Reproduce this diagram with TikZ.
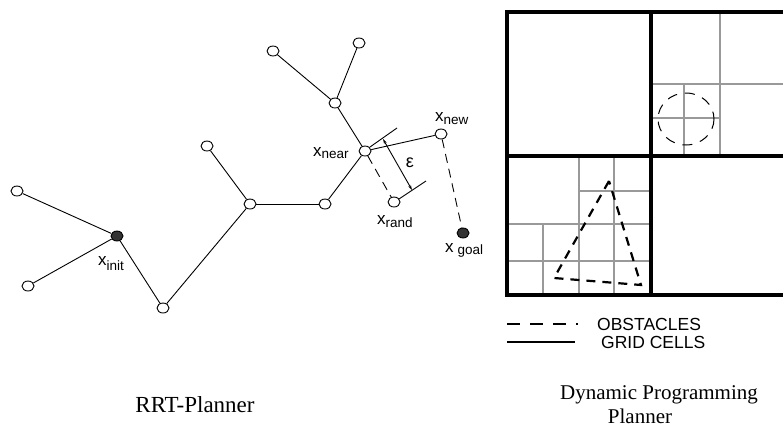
\documentclass[tikz,border=0pt]{standalone}
\usepackage{fontspec}
\setmainfont{Liberation Serif}
\newfontfamily\arialf{Liberation Sans}
\usetikzlibrary{arrows.meta,shapes.geometric}
\newcommand\xsub[2]{\raisebox{-#1}{\fontsize{13.5}{13.5}\selectfont #2}}
\tikzset{
  vtx/.style={ellipse, draw, fill=white, minimum width=12pt, minimum height=10pt, inner sep=0pt, line width=0.9pt},
  goalvtx/.style={vtx, fill=black!80},
  edge/.style={line width=0.9pt},
  dedge/.style={line width=0.9pt, dash pattern=on 9pt off 6pt},
  lab/.style={font=\arialf\fontsize{17}{17}\selectfont, anchor=base west, inner sep=0pt},
  thick cell/.style={line width=4pt, line cap=rect},
  gridline/.style={line width=1.5pt, draw=black!40},
  obst/.style={line width=2.2pt, dash pattern=on 9pt off 7pt},
  caption/.style={font=\fontsize{21}{21}\selectfont, inner sep=0pt},
  legtext/.style={font=\arialf\fontsize{17.5}{17.5}\selectfont, anchor=west, inner sep=0pt}
}
\begin{document}
\begin{tikzpicture}[x=1pt, y=-1pt]
\useasboundingbox (0,0) rectangle (783,431);
% ---------- RRT tree ----------
\node[vtx] (a1) at (273,51) {};
\node[vtx] (a2) at (359,43) {};
\node[vtx] (a3) at (335,103) {};
\node[vtx] (near) at (365,151) {};
\node[vtx] (new) at (441,134) {};
\node[vtx] (rand) at (394,202) {};
\node[goalvtx] (goal) at (463,233) {};
\node[vtx] (b1) at (325,204) {};
\node[vtx] (b2) at (250,204) {};
\node[vtx] (b3) at (207,146) {};
\node[vtx] (b4) at (163,308) {};
\node[goalvtx] (init) at (117,236) {};
\node[vtx] (c1) at (17,191) {};
\node[vtx] (c2) at (28,286) {};
\draw[edge] (a1) -- (a3);
\draw[edge] (a2) -- (a3);
\draw[edge] (a3) -- (near);
\draw[edge] (near) -- (b1);
\draw[edge] (b1) -- (b2);
\draw[edge] (b2) -- (b3);
\draw[edge] (b2) -- (b4);
\draw[edge] (b4) -- (init);
\draw[edge] (init) -- (c1);
\draw[edge] (init) -- (c2);
\draw[edge] (near) -- (new);
\draw[dedge] (near) -- (rand);
\draw[dedge] (new) -- (goal);
% epsilon dimension
\coordinate (e1s) at (370,147);
\coordinate (e1e) at (397,128);
\coordinate (e2s) at (399,199);
\coordinate (e2e) at (426,181);
\coordinate (ea) at (383,139);
\coordinate (eb) at (412,190);
\draw[edge] (e1s) -- (e1e);
\draw[edge] (e2s) -- (e2e);
\draw[edge, {Stealth[length=5pt,width=3pt]}-{Stealth[length=5pt,width=3pt]}] (ea) -- (eb);
\node[font=\arialf\fontsize{18}{18}\selectfont, inner sep=0pt] (eps) at (410,163) {ε};
% labels
\node[lab] (lnear) at (313,156) {x\xsub{2pt}{near}};
\node[lab] (lnew) at (435,121) {x\xsub{3pt}{new}};
\node[lab] (lrand) at (377,224) {x\xsub{3pt}{rand}};
\node[lab] (lgoal) at (445,252) {x\hspace{4pt}\xsub{2pt}{goal}};
\node[lab] (linit) at (98,265) {x\xsub{5pt}{init}};
% ---------- grid ----------
\draw[gridline] (720,12) -- (720,156);
\draw[gridline] (651,84) -- (783,84);
\draw[gridline] (684,84) -- (684,156);
\draw[gridline] (651,118) -- (720,118);
\draw[gridline] (579,156) -- (579,295);
\draw[gridline] (614,156) -- (614,295);
\draw[gridline] (579,191) -- (651,191);
\draw[gridline] (507,224) -- (651,224);
\draw[gridline] (507,261) -- (651,261);
\draw[gridline] (543,224) -- (543,295);
\draw[thick cell] (790,12) -- (507,12) -- (507,295) -- (790,295);
\draw[thick cell] (651,12) -- (651,295);
\draw[thick cell] (507,156) -- (790,156);
% obstacles
\draw[obst] (609,181) -- (554,278) -- (641,285) -- cycle;
\draw[line width=1pt, dash pattern=on 10pt off 8pt] (686,119) ellipse [x radius=28, y radius=26];
% legend
\coordinate (l1a) at (507,324);
\coordinate (l1b) at (578,324);
\coordinate (l2a) at (507,342);
\coordinate (l2b) at (575,342);
\draw[line width=2pt, dash pattern=on 13pt off 10pt] (l1a) -- (l1b);
\draw[line width=1.8pt] (l2a) -- (l2b);
\node[legtext] (t1) at (597,324) {OBSTACLES};
\node[legtext] (t2) at (601,342) {GRID CELLS};
% captions
\node[caption, font=\fontsize{23}{23}\selectfont] (c1t) at (195,405) {RRT-Planner};
\node[caption] (c2t) at (659,395) {Dynamic Programming};
\node[caption] (c3t) at (640,416) {Planner};
\end{tikzpicture}
\end{document}
